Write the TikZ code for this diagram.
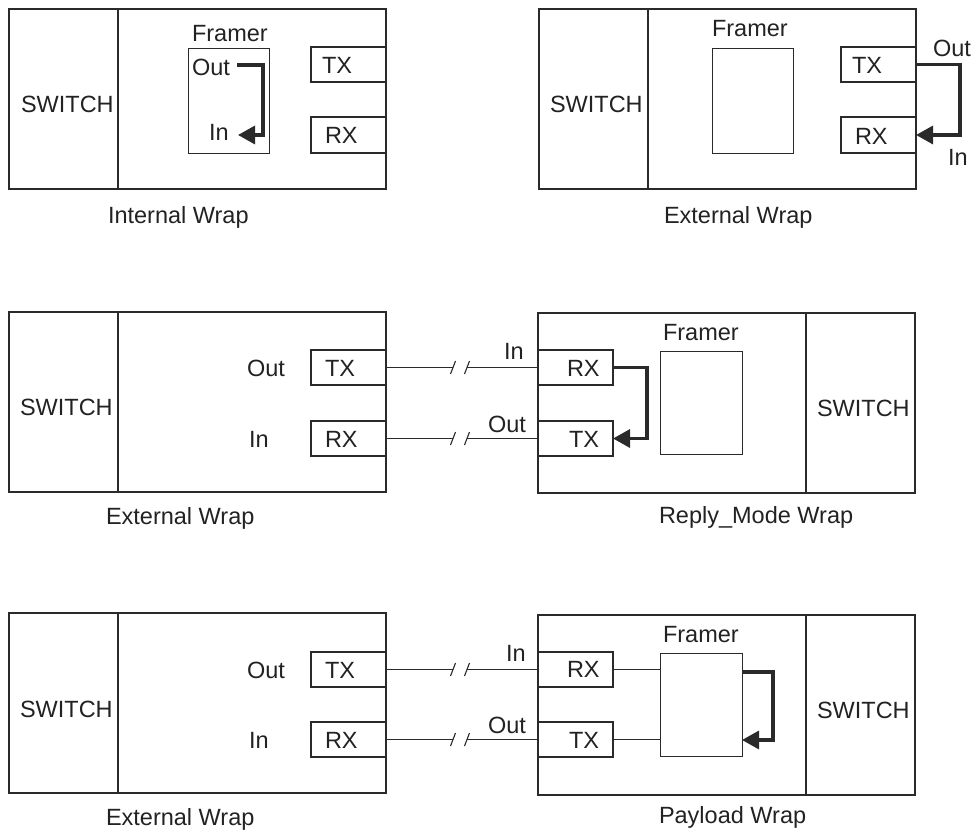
\documentclass[tikz,border=0pt]{standalone}
\usepackage{fontspec}
\setmainfont{Liberation Sans}
\usetikzlibrary{arrows.meta,calc}
\definecolor{lc}{HTML}{2A2A2A}
\definecolor{tc}{HTML}{222222}
\tikzset{
  box/.style={draw=lc, line width=1.3pt, inner sep=0pt, outer sep=0pt, anchor=north west},
  port/.style={draw=lc, line width=1.1pt, inner sep=0pt, outer sep=0pt, anchor=north west, minimum width=75pt, minimum height=35pt},
  lbl/.style={inner sep=0pt, outer sep=0pt, text=tc, anchor=base west, font=\fontsize{23.5}{28}\selectfont},
  wire/.style={draw=lc, line width=1pt},
  slash/.style={draw=lc, line width=1.1pt},
  loopline/.style={draw=lc, line width=3.3pt, -{Triangle[length=17pt,width=18pt]}},
}
\begin{document}
\begin{tikzpicture}[x=1pt,y=-1pt]
\useasboundingbox (0,0) rectangle (974,832);
% ---------------- Panel 1: Internal Wrap ----------------
\node[box, minimum width=377pt, minimum height=180pt] (outer1) at (9,9) {};
\node[box, minimum width=109pt, minimum height=180pt] (sw1) at (9,9) {};
\node[box, line width=1pt, minimum width=81pt, minimum height=104pt] (fr1) at (188,49) {};
\node[port] (tx1) at (311,47) {};
\node[port, minimum height=36pt] (rx1) at (311,117) {};
\node[lbl] (sw1t) at (21,113) {SWITCH};
\node[lbl] (fr1t) at (192,42) {Framer};
\node[lbl] (o1) at (192,76) {Out};
\node[lbl] (i1) at (209,140) {In};
\node[lbl] (tx1t) at (322,74) {TX};
\node[lbl] (rx1t) at (325,143) {RX};
\node[lbl] (cap1) at (108,223) {Internal Wrap};
\coordinate (a1s) at (237,65);
\coordinate (a1e) at (238,135);
\draw[loopline] (a1s) -- ++(26,0) |- (a1e);
% ---------------- Panel 2: External Wrap ----------------
\node[box, minimum width=377pt, minimum height=180pt] (outer2) at (539,9) {};
\node[box, minimum width=109pt, minimum height=180pt] (sw2) at (539,9) {};
\node[box, line width=1pt, minimum width=81pt, minimum height=104pt] (fr2) at (712,49) {};
\node[port] (tx2) at (841,47) {};
\node[port, minimum height=36pt] (rx2) at (841,117) {};
\node[lbl] (sw2t) at (550,113) {SWITCH};
\node[lbl] (fr2t) at (712,37) {Framer};
\node[lbl] (tx2t) at (852,74) {TX};
\node[lbl] (rx2t) at (855,144) {RX};
\node[lbl] (o2) at (933,57) {Out};
\node[lbl] (i2) at (948,165) {In};
\node[lbl] (cap2) at (664,223) {External Wrap};
\draw[loopline] (tx2.east) -- ++(44,0) |- (rx2.east);
% ---------------- Row 2 ----------------
\coordinate (bL) at (453,0);
\coordinate (bR) at (467,0);
\node[box, minimum width=377pt, minimum height=180pt] (outer3) at (9,312) {};
\node[box, minimum width=109pt, minimum height=180pt] (sw3) at (9,312) {};
\node[port] (tx3) at (311,350) {};
\node[port] (rx3) at (311,421) {};
\node[lbl] (sw3t) at (20,415) {SWITCH};
\node[lbl] (o3) at (247,376) {Out};
\node[lbl] (i3) at (249,447) {In};
\node[lbl] (tx3t) at (325,376) {TX};
\node[lbl] (rx3t) at (325,447) {RX};
\node[lbl] (cap3) at (106,524) {External Wrap};
\node[box, minimum width=377pt, minimum height=180pt] (outer4) at (538,313) {};
\node[box, minimum width=109pt, minimum height=180pt] (sw4) at (806,313) {};
\node[port] (rx4) at (538,350) {};
\node[port] (tx4) at (538,421) {};
\node[box, line width=1pt, minimum width=82pt, minimum height=103pt] (fr4) at (660,351) {};
\node[lbl] (rx4t) at (567,376) {RX};
\node[lbl] (tx4t) at (569,447) {TX};
\node[lbl] (i4) at (504,359) {In};
\node[lbl] (o4) at (488,432) {Out};
\node[lbl] (fr4t) at (663,340) {Framer};
\node[lbl] (sw4t) at (817,416) {SWITCH};
\node[lbl] (cap4) at (659,523) {Reply\_Mode Wrap};
\draw[wire] (tx3.east) -- (tx3.east -| bL);
\draw[wire] (tx3.east -| bR) -- (rx4.west);
\draw[slash] ($(tx3.east -| bL)+(-2.5,6.5)$) -- ++(5,-13);
\draw[slash] ($(tx3.east -| bR)+(-2.5,6.5)$) -- ++(5,-13);
\draw[wire] (rx3.east) -- (rx3.east -| bL);
\draw[wire] (rx3.east -| bR) -- (tx4.west);
\draw[slash] ($(rx3.east -| bL)+(-2.5,6.5)$) -- ++(5,-13);
\draw[slash] ($(rx3.east -| bR)+(-2.5,6.5)$) -- ++(5,-13);
\draw[loopline] (rx4.east) -- ++(34,0) |- (tx4.east);
% ---------------- Row 3 ----------------
\node[box, minimum width=377pt, minimum height=180pt] (outer5) at (9,613) {};
\node[box, minimum width=109pt, minimum height=180pt] (sw5) at (9,613) {};
\node[port] (tx5) at (311,652) {};
\node[port] (rx5) at (311,722) {};
\node[lbl] (sw5t) at (20,717) {SWITCH};
\node[lbl] (o5) at (247,678) {Out};
\node[lbl] (i5) at (249,748) {In};
\node[lbl] (tx5t) at (325,678) {TX};
\node[lbl] (rx5t) at (325,748) {RX};
\node[lbl] (cap5) at (106,825) {External Wrap};
\node[box, minimum width=377pt, minimum height=180pt] (outer6) at (538,615) {};
\node[box, minimum width=109pt, minimum height=180pt] (sw6) at (806,615) {};
\node[port] (rx6) at (538,652) {};
\node[port] (tx6) at (538,722) {};
\node[box, line width=1pt, minimum width=82pt, minimum height=103pt] (fr6) at (660,653) {};
\node[lbl] (rx6t) at (567,677) {RX};
\node[lbl] (tx6t) at (569,748) {TX};
\node[lbl] (i6) at (506,661) {In};
\node[lbl] (o6) at (488,733) {Out};
\node[lbl] (fr6t) at (663,642) {Framer};
\node[lbl] (sw6t) at (817,718) {SWITCH};
\node[lbl] (cap6) at (659,823) {Payload Wrap};
\draw[wire] (tx5.east) -- (tx5.east -| bL);
\draw[wire] (tx5.east -| bR) -- (rx6.west);
\draw[slash] ($(tx5.east -| bL)+(-2.5,6.5)$) -- ++(5,-13);
\draw[slash] ($(tx5.east -| bR)+(-2.5,6.5)$) -- ++(5,-13);
\draw[wire] (rx5.east) -- (rx5.east -| bL);
\draw[wire] (rx5.east -| bR) -- (tx6.west);
\draw[slash] ($(rx5.east -| bL)+(-2.5,6.5)$) -- ++(5,-13);
\draw[slash] ($(rx5.east -| bR)+(-2.5,6.5)$) -- ++(5,-13);
\draw[wire, line width=0.8pt] (rx6.east) -- (fr6.west |- rx6.east);
\draw[wire, line width=0.8pt] (tx6.east) -- (fr6.west |- tx6.east);
\coordinate (p6a) at (742,672);
\coordinate (p6b) at (742,740);
\draw[loopline] (p6a) -- ++(31,0) |- (p6b);
\end{tikzpicture}
\end{document}
